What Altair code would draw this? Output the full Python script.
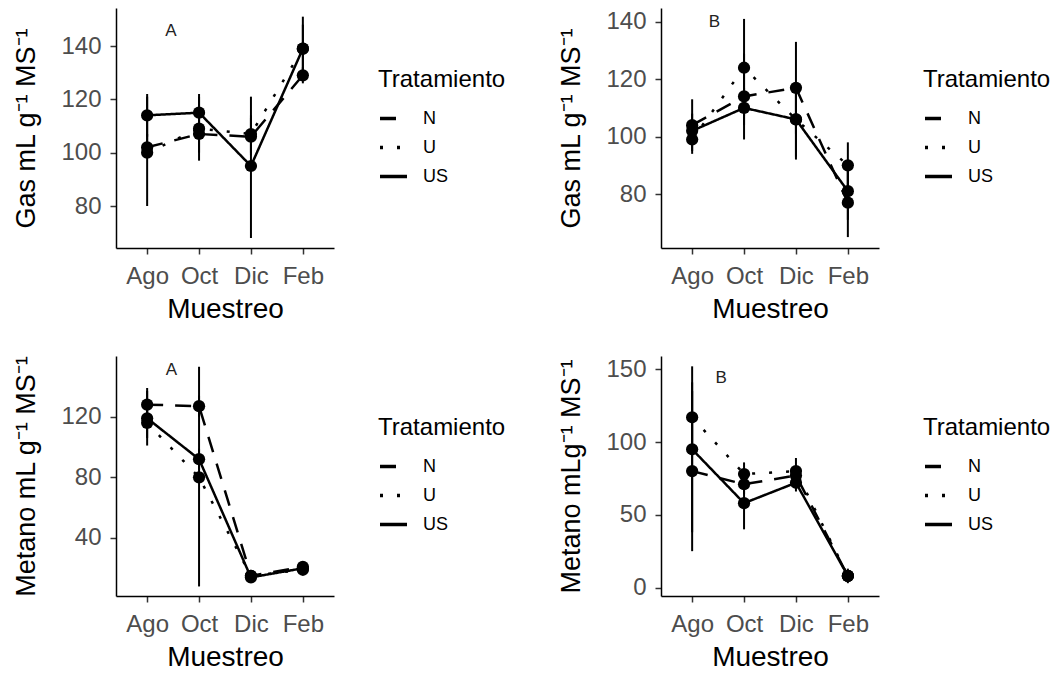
import json
import altair as alt
import pandas as pd

months = ["Ago", "Oct", "Dic", "Feb"]
treatments = ["N", "U", "US"]

# ---- Gas, panel A ----
gasA_mean = {"N": [102, 107, 106, 129], "U": [100, 109, 107, 139], "US": [114, 115, 95, 139]}
gasA_lo = {"N": [98, 100, 99, 126], "U": [80, 97, 100, 130], "US": [106, 108, 68, 128]}
gasA_hi = {"N": [107, 114, 114, 132], "U": [121, 122, 113, 148], "US": [122, 121, 121, 151]}

# ---- Gas, panel B ----
gasB_mean = {"N": [104, 114, 117, 77], "U": [99, 124, 106, 90], "US": [102, 110, 106, 81]}
gasB_lo = {"N": [95, 99, 101, 65], "U": [94, 107, 93, 82], "US": [97, 104, 92, 71]}
gasB_hi = {"N": [113, 129, 133, 89], "U": [104, 141, 118, 98], "US": [108, 117, 119, 91]}

# ---- Metano, panel A ----
metA_mean = {"N": [128, 127, 15, 21], "U": [116, 80, 15, 19], "US": [119, 92, 14, 20]}
metA_lo = {"N": [120, 120, 12, 18], "U": [106, 8, 12, 16], "US": [101, 85, 12, 17]}
metA_hi = {"N": [139, 134, 18, 24], "U": [126, 153, 18, 22], "US": [137, 99, 17, 23]}

# ---- Metano, panel B ----
metB_mean = {"N": [80, 71, 77, 8], "U": [117, 78, 80, 8], "US": [95, 58, 72, 8]}
metB_lo = {"N": [25, 64, 70, 4], "U": [92, 70, 72, 3], "US": [38, 40, 66, 4]}
metB_hi = {"N": [135, 78, 84, 12], "U": [141, 86, 89, 13], "US": [152, 76, 78, 12]}

y_titles = ["Gas mL g\u207b\u00b9 MS\u207b\u00b9", "Gas mL g\u207b\u00b9 MS\u207b\u00b9",
            "Metano mL g\u207b\u00b9 MS\u207b\u00b9", "Metano mLg\u207b\u00b9 MS\u207b\u00b9"]
y_domains = [[64.25, 154.25], [61.2, 144.8], [1.7, 160.1], [-5.8, 159.1]]
y_ticks = [[80, 100, 120, 140], [80, 100, 120, 140], [40, 80, 120], [0, 50, 100, 150]]
panel_labels = ["A", "B", "A", "B"]
label_x = [1.46, 1.43, 1.47, 1.56]
label_y = [145.7, 140, 151, 144.3]

dashes = [[16, 12], [3, 14], [1, 0]]
FONT = "Liberation Sans"


def frame(mean, lo, hi):
    rows = []
    for t in treatments:
        for i, m in enumerate(months):
            rows.append({"Tratamiento": t, "Muestreo": m, "pos": i + 1,
                         "value": mean[t][i], "lo": lo[t][i], "hi": hi[t][i]})
    return pd.DataFrame(rows)


def panel(df, ytitle, ydomain, yticks, lab, lx, ly):
    xenc = alt.X("pos:Q",
                 scale=alt.Scale(domain=[0.4, 4.6], nice=False, zero=False),
                 axis=alt.Axis(values=[1, 2, 3, 4],
                               labelExpr=json.dumps(months) + "[datum.value - 1]",
                               title="Muestreo"))
    yscale = alt.Scale(domain=ydomain, nice=False, zero=False)
    yaxis = alt.Axis(values=yticks, title=ytitle)
    base = alt.Chart(df)
    bars = base.mark_rule(color="black", strokeWidth=2).encode(
        x=xenc, y=alt.Y("lo:Q", scale=yscale, axis=yaxis), y2="hi:Q")
    lines = base.mark_line(color="black", strokeWidth=2.5).encode(
        x=xenc,
        y=alt.Y("value:Q", scale=yscale, axis=yaxis),
        order="pos:Q",
        strokeDash=alt.StrokeDash(
            "Tratamiento:N",
            scale=alt.Scale(domain=treatments, range=dashes),
            legend=alt.Legend(title="Tratamiento", orient="none", legendX=262, legendY=60,
                              titleFontSize=24, titleFont=FONT, titleFontWeight="normal",
                              titleColor="black", titlePadding=11,
                              labelFontSize=18, labelFont=FONT, labelColor="black",
                              labelOffset=14, symbolType="stroke", symbolSize=729,
                              symbolStrokeWidth=3.5, symbolStrokeColor="black",
                              rowPadding=4, padding=0)))
    points = base.mark_circle(color="black", size=150, opacity=1).encode(
        x=xenc, y=alt.Y("value:Q", scale=yscale, axis=yaxis))
    text = alt.Chart(pd.DataFrame({"x": [lx], "y": [ly], "t": [lab]})).mark_text(
        font=FONT, fontSize=17, color="#222222", baseline="middle", align="center").encode(
        x=alt.X("x:Q", scale=alt.Scale(domain=[0.4, 4.6], nice=False, zero=False)),
        y=alt.Y("y:Q", scale=yscale), text="t:N")
    return alt.layer(bars, lines, points, text).properties(width=218, height=240)


frames = [frame(gasA_mean, gasA_lo, gasA_hi), frame(gasB_mean, gasB_lo, gasB_hi),
          frame(metA_mean, metA_lo, metA_hi), frame(metB_mean, metB_lo, metB_hi)]

panels = [panel(frames[i], y_titles[i], y_domains[i], y_ticks[i],
                panel_labels[i], label_x[i], label_y[i]) for i in range(4)]

chart = alt.concat(*panels, columns=2, spacing={"row": 108, "column": 327}, bounds="flush").resolve_scale(
    strokeDash="independent").resolve_legend(strokeDash="independent").properties(
    padding={"left": 4, "top": 0, "right": 0, "bottom": 0}
).configure_view(stroke=None).configure_axis(
    labelFont=FONT, labelFontSize=24, labelColor="#4d4d4d",
    titleFont=FONT, titleFontWeight="normal", titleColor="black",
    domainColor="black", domainWidth=1.5, tickColor="#333333", tickWidth=1.5, tickSize=6,
    grid=False, labelOverlap=False, labelFlush=False
).configure_axisX(labelPadding=10, titlePadding=7, titleFontSize=28
).configure_axisY(labelPadding=9, titlePadding=20, titleFontSize=27)

chart.save("out.html", embed_options={"renderer": "svg", "actions": False})
